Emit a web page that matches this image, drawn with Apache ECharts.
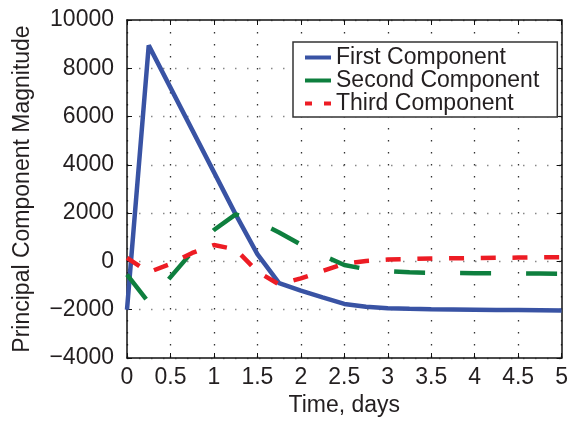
<!DOCTYPE html>
<html>
<head>
<meta charset="utf-8">
<script src="https://cdn.jsdelivr.net/npm/echarts@6/dist/echarts.min.js"></script>
<style>
  html, body { margin: 0; padding: 0; background: #fff; }
  #chart { width: 571px; height: 422px; }
</style>
</head>
<body>
<div id="chart"></div>
<script>
// sample times, days
const times = [0, 0.25, 0.5, 0.75, 1, 1.25, 1.5, 1.75, 2, 2.25, 2.5, 2.75, 3, 3.25, 3.5, 3.75, 4, 4.25, 4.5, 4.75, 5]
const firstComp = [-2000, 8950, 7200, 5450, 3700, 1950, 300, -900, -1210, -1490, -1760, -1880, -1940, -1965, -1980, -1990, -2000, -2010, -2015, -2020, -2030]
const secondComp = [-550, -1700, -650, 400, 1300, 1950, 1650, 1200, 700, 250, -150, -320, -400, -450, -470, -480, -490, -495, -500, -505, -510]
const thirdComp = [150, -450, -100, 350, 680, 500, -420, -950, -700, -400, -100, 20, 80, 100, 120, 130, 140, 150, 160, 170, 175]
const seriesNames = ['First Component', 'Second Component', 'Third Component']

const font = 'Liberation Sans, Arial, sans-serif'
const textColor = '#231f20'

function pairs(vals) {
  return times.map((t, i) => [t, vals[i]])
}

const chart = echarts.init(document.getElementById('chart'))

// frame axes (top / right) only carry the ticks
const frameAxis = {
  axisLine: { show: true, onZero: false, lineStyle: { color: '#111', width: 1.5 } },
  axisTick: { show: true, inside: true, length: 5, lineStyle: { color: '#111', width: 1 } },
  axisLabel: { show: false },
  splitLine: { show: false }
}

// legend samples: a bar, and two short dashes for the dotted series
const solidIcon = 'path://M0,0H26V4H0Z'
const dashIcon = 'path://M0,0H7V4H0Z M19,0H26V4H19Z'

chart.setOption({
  animation: false,
  textStyle: { fontFamily: font, color: textColor },
  grid: { left: 127, right: 9, top: 20, bottom: 62 },
  legend: {
    orient: 'vertical',
    left: 293,
    top: 42,
    padding: [4, 18, 2, 12],
    borderColor: '#333',
    borderWidth: 1.5,
    backgroundColor: '#fff',
    itemWidth: 26,
    itemHeight: 4.5,
    itemGap: 0,
    textStyle: { fontSize: 23, fontFamily: font, color: textColor, lineHeight: 23 },
    data: [
      { name: seriesNames[0], icon: solidIcon },
      { name: seriesNames[1], icon: solidIcon },
      { name: seriesNames[2], icon: dashIcon }
    ]
  },
  xAxis: [
    {
      type: 'value',
      min: 0,
      max: 5,
      interval: 0.5,
      name: 'Time, days',
      nameLocation: 'middle',
      nameGap: 36,
      nameTextStyle: { fontSize: 23, fontFamily: font, color: textColor },
      axisLine: { show: true, onZero: false, lineStyle: { color: '#111', width: 1.5 } },
      axisTick: { inside: true, length: 5, lineStyle: { color: '#111', width: 1 } },
      axisLabel: { fontSize: 23, fontFamily: font, color: textColor, margin: 8 },
      splitLine: { show: true, lineStyle: { color: '#333', width: 1.3, type: [1.5, 10.5] } }
    },
    Object.assign({ type: 'value', position: 'top', min: 0, max: 5, interval: 0.5 }, frameAxis)
  ],
  yAxis: [
    {
      type: 'value',
      min: -4000,
      max: 10000,
      interval: 2000,
      name: 'Principal Component Magnitude',
      nameLocation: 'middle',
      nameGap: 93,
      nameTextStyle: { fontSize: 23, fontFamily: font, color: textColor },
      axisLine: { show: true, onZero: false, lineStyle: { color: '#111', width: 1.5 } },
      axisTick: { inside: true, length: 5, lineStyle: { color: '#111', width: 1 } },
      axisLabel: {
        fontSize: 23,
        fontFamily: font,
        color: textColor,
        margin: 13,
        formatter: v => String(v).replace('-', '\u2212')
      },
      splitLine: { show: true, lineStyle: { color: '#888', width: 1.3, type: [1.5, 10.5] } }
    },
    Object.assign({ type: 'value', position: 'right', min: -4000, max: 10000, interval: 2000 }, frameAxis)
  ],
  series: [
    {
      name: seriesNames[0],
      type: 'line',
      data: pairs(firstComp),
      showSymbol: false,
      symbol: 'none',
      itemStyle: { color: '#3953a4' },
      lineStyle: { color: '#3953a4', width: 4.5 },
      z: 3
    },
    {
      name: seriesNames[1],
      type: 'line',
      data: pairs(secondComp),
      showSymbol: false,
      symbol: 'none',
      itemStyle: { color: '#0e7f3e' },
      lineStyle: { color: '#0e7f3e', width: 4.5, type: [31, 35] },
      z: 4
    },
    {
      name: seriesNames[2],
      type: 'line',
      data: pairs(thirdComp),
      showSymbol: false,
      symbol: 'none',
      itemStyle: { color: '#ed1c24' },
      lineStyle: { color: '#ed1c24', width: 4.5, type: [15, 16.7] },
      z: 5
    }
  ]
})
</script>
</body>
</html>
